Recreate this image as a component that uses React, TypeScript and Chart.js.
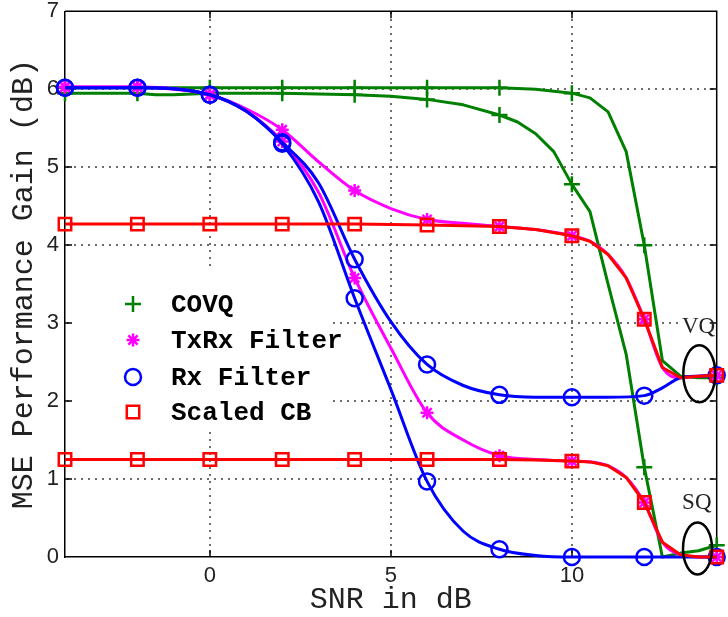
import { useEffect, useRef } from "react";
import { Chart, registerables } from "chart.js";
Chart.register(...registerables);

// ---- data ----
const xTickValues = [0, 5, 10];
const yTickValues = [0, 1, 2, 3, 4, 5, 6, 7];

const seriesNames = ["COVQ", "TxRx Filter", "Rx Filter", "Scaled CB"];
const groupLabels = ["VQ", "SQ"];

// COVQ
const covqVqX = [-4, -2, 0, 2, 4, 6, 8, 9, 10, 10.5, 11, 11.5, 12, 12.5, 13, 13.5, 14];
const covqVqY = [6.02, 6.02, 6.02, 6.02, 6.02, 6.02, 6.02, 6.0, 5.95, 5.89, 5.71, 5.2, 4.0, 2.52, 2.32, 2.3, 2.3];
const covqSqX = [-4, -3, -2, -1.5, -1, 0, 1, 2, 3, 4, 5, 6, 7, 8, 8.5, 9, 9.5, 10, 10.5, 11, 11.5, 12, 12.5, 13, 13.5, 14];
const covqSqY = [5.95, 5.95, 5.95, 5.93, 5.93, 5.95, 5.95, 5.95, 5.94, 5.93, 5.91, 5.87, 5.8, 5.67, 5.58, 5.43, 5.2, 4.78, 4.43, 3.5, 2.6, 1.15, 0.0, 0.05, 0.08, 0.15];

// TxRx Filter
const txrxVqX = [-4, -3, -2, -1, 0, 1, 2, 3, 4, 5, 6, 7, 8, 9, 10, 10.5, 11, 11.5, 12, 12.5, 13, 13.5, 14];
const txrxVqY = [6.03, 6.03, 6.03, 6.0, 5.93, 5.75, 5.48, 5.07, 4.7, 4.47, 4.33, 4.28, 4.24, 4.2, 4.12, 4.05, 3.88, 3.58, 3.05, 2.43, 2.3, 2.32, 2.33];
const txrxSqX = [-4, -2, 0, 1, 2, 3, 4, 5, 6, 7, 8, 9, 10, 10.5, 11, 11.5, 12, 12.5, 13, 13.5, 14];
const txrxSqY = [6.03, 6.03, 5.93, 5.72, 5.33, 4.68, 3.58, 2.68, 1.85, 1.5, 1.3, 1.25, 1.23, 1.22, 1.17, 1.02, 0.7, 0.19, 0.03, 0.0, 0.0];

// Rx Filter
const rxVqX = [-4, -2, 0, 1, 2, 3, 4, 5, 6, 7, 8, 9, 10, 11, 12, 12.5, 13, 13.5, 14];
const rxVqY = [6.02, 6.02, 5.93, 5.72, 5.32, 4.8, 3.82, 3.02, 2.47, 2.2, 2.08, 2.05, 2.05, 2.05, 2.07, 2.17, 2.3, 2.32, 2.33];
const rxSqX = [-4, -2, 0, 1, 2, 3, 4, 5, 6, 7, 8, 9, 10, 12, 14];
const rxSqY = [6.02, 6.02, 5.93, 5.72, 5.3, 4.56, 3.32, 2.15, 0.97, 0.33, 0.1, 0.02, 0.0, 0.0, 0.0];

// Scaled CB
const scaledVqX = [-4, -2, 0, 2, 4, 6, 7, 8, 9, 10, 10.5, 11, 11.5, 12, 12.5, 13, 13.5, 14];
const scaledVqY = [4.27, 4.27, 4.27, 4.27, 4.27, 4.26, 4.25, 4.24, 4.2, 4.12, 4.05, 3.88, 3.58, 3.05, 2.43, 2.3, 2.32, 2.33];
const scaledSqX = [-4, -2, 0, 2, 4, 6, 8, 9, 10, 10.5, 11, 11.5, 12, 12.5, 13, 13.5, 14];
const scaledSqY = [1.25, 1.25, 1.25, 1.25, 1.25, 1.25, 1.25, 1.245, 1.23, 1.22, 1.17, 1.02, 0.7, 0.19, 0.03, 0.0, 0.0];

// annotation anchors (data coords)
const vqEllipse = { x: 13.52, y: 2.35 };
const sqEllipse = { x: 13.47, y: 0.11 };
const vqText = { x: 13.5, y: 2.95 };
const sqText = { x: 13.45, y: 0.69 };

// ---- styles ----
const colors = ["#008000", "#ff00ff", "#0000ff", "#ff0000"];
const markers = ["cross", "star", "circle", "rect"];
const markerRadius = [8, 6.5, 8, 8.8];
const drawOrder = [4, 3, 2, 1];
const smoothSeries = [false, true, true, false];

const curves = [
  { s: 0, x: covqVqX, y: covqVqY },
  { s: 0, x: covqSqX, y: covqSqY },
  { s: 1, x: txrxVqX, y: txrxVqY },
  { s: 1, x: txrxSqX, y: txrxSqY },
  { s: 2, x: rxVqX, y: rxVqY },
  { s: 2, x: rxSqX, y: rxSqY },
  { s: 3, x: scaledVqX, y: scaledVqY },
  { s: 3, x: scaledSqX, y: scaledSqY },
];

function drawMarker(ctx: CanvasRenderingContext2D, style: string, x: number, y: number, r: number) {
  ctx.beginPath();
  if (style === "cross") {
    ctx.moveTo(x - r, y); ctx.lineTo(x + r, y);
    ctx.moveTo(x, y - r); ctx.lineTo(x, y + r);
  } else if (style === "star") {
    for (let k = 0; k < 4; k++) {
      const a = (k * Math.PI) / 4;
      ctx.moveTo(x - Math.cos(a) * r, y - Math.sin(a) * r);
      ctx.lineTo(x + Math.cos(a) * r, y + Math.sin(a) * r);
    }
  } else if (style === "circle") {
    ctx.arc(x, y, r, 0, Math.PI * 2);
  } else {
    const h = r * Math.SQRT1_2;
    ctx.rect(x - h, y - h, 2 * h, 2 * h);
  }
  ctx.stroke();
}

function dottedLine(ctx: CanvasRenderingContext2D, x1: number, y1: number, x2: number, y2: number) {
  const len = Math.hypot(x2 - x1, y2 - y1);
  const step = 7;
  const n = Math.floor(len / step);
  for (let i = 0; i <= n; i++) {
    const t = (i * step) / len;
    const px = Math.round(x1 + (x2 - x1) * t);
    const py = Math.round(y1 + (y2 - y1) * t);
    ctx.fillRect(px - 1, py - 1, 2, 2);
  }
}

const decor = {
  id: "decor",
  beforeDatasetsDraw(chart: any) {
    const { ctx, chartArea: a, scales } = chart;
    const xs = scales.x, ys = scales.y;
    ctx.save();
    // dotted grid
    ctx.fillStyle = "#6e6e6e";
    for (const v of xTickValues) {
      const px = Math.round(xs.getPixelForValue(v));
      dottedLine(ctx, px, a.top + 2, px, a.bottom - 2);
    }
    for (const v of yTickValues.slice(1, -1)) {
      const py = Math.round(ys.getPixelForValue(v));
      dottedLine(ctx, a.left + 3, py, a.right - 2, py);
    }
    // legend background (covers grid)
    ctx.fillStyle = "#ffffff";
    ctx.fillRect(72, 270, 333 - 72, 432 - 270);
    // label backgrounds
    for (const t of [vqText, sqText]) {
      const px = xs.getPixelForValue(t.x), py = ys.getPixelForValue(t.y);
      ctx.fillRect(px - 17, py - 12, 34, 24);
    }
    // frame top/right
    ctx.strokeStyle = "#000";
    ctx.lineWidth = 1.5;
    ctx.beginPath();
    ctx.moveTo(a.left, a.top);
    ctx.lineTo(a.right, a.top);
    ctx.lineTo(a.right, a.bottom);
    ctx.stroke();
    // inward ticks
    ctx.lineWidth = 1.5;
    ctx.beginPath();
    for (const v of xTickValues) {
      const px = Math.round(xs.getPixelForValue(v));
      ctx.moveTo(px, a.bottom); ctx.lineTo(px, a.bottom - 7);
      ctx.moveTo(px, a.top); ctx.lineTo(px, a.top + 7);
    }
    for (const v of yTickValues.slice(1, -1)) {
      const py = Math.round(ys.getPixelForValue(v));
      ctx.moveTo(a.left, py); ctx.lineTo(a.left + 7, py);
      ctx.moveTo(a.right, py); ctx.lineTo(a.right - 7, py);
    }
    ctx.stroke();
    ctx.restore();
  },
  afterDatasetsDraw(chart: any) {
    const { ctx, scales } = chart;
    const xs = scales.x, ys = scales.y;
    ctx.save();
    // legend
    const rowsY = [304, 340, 377, 412];
    seriesNames.forEach((name, i) => {
      ctx.strokeStyle = colors[i];
      ctx.lineWidth = 2.5;
      drawMarker(ctx, markers[i], 133, rowsY[i], markerRadius[i]);
      ctx.fillStyle = "#000";
      ctx.font = 'bold 26px "Liberation Mono"';
      ctx.textBaseline = "middle";
      ctx.textAlign = "left";
      ctx.fillText(name, 171, rowsY[i] + 1);
    });
    // ellipses
    ctx.strokeStyle = "#000";
    ctx.lineWidth = 2.5;
    const ell = [
      { c: vqEllipse, rx: 16, ry: 28.5 },
      { c: sqEllipse, rx: 14.5, ry: 26 },
    ];
    for (const e of ell) {
      ctx.beginPath();
      ctx.ellipse(xs.getPixelForValue(e.c.x), ys.getPixelForValue(e.c.y), e.rx, e.ry, 0, 0, Math.PI * 2);
      ctx.stroke();
    }
    // group labels
    ctx.fillStyle = "#222";
    ctx.font = '23px "Liberation Serif"';
    ctx.textAlign = "center";
    ctx.textBaseline = "middle";
    [vqText, sqText].forEach((t, i) => {
      ctx.fillText(groupLabels[i], xs.getPixelForValue(t.x), ys.getPixelForValue(t.y));
    });
    ctx.restore();
  },
};

export default function App() {
  const ref = useRef<HTMLCanvasElement | null>(null);
  useEffect(() => {
    if (!ref.current) return;
    const datasets = curves.map((c) => ({
      label: seriesNames[c.s],
      data: c.x.map((x, i) => ({ x, y: c.y[i] })),
      borderColor: colors[c.s],
      backgroundColor: "rgba(0,0,0,0)",
      borderWidth: 3,
      pointStyle: markers[c.s],
      pointRadius: (ctx: any) => (ctx.raw && ctx.raw.x % 2 === 0 ? markerRadius[c.s] : 0),
      pointBorderWidth: 2.5,
      pointBorderColor: colors[c.s],
      pointBackgroundColor: "rgba(0,0,0,0)",
      cubicInterpolationMode: smoothSeries[c.s] ? "monotone" : "default",
      tension: 0,
      borderJoinStyle: "round",
      fill: false,
      clip: false,
      order: drawOrder[c.s],
    }));
    const chart = new Chart(ref.current, {
      type: "line",
      data: { datasets } as any,
      options: {
        responsive: false,
        animation: false,
        devicePixelRatio: 1,
        events: [],
        layout: { padding: { top: 9, right: 1, left: 0, bottom: 0 } },
        plugins: { legend: { display: false }, tooltip: { enabled: false } },
        scales: {
          x: {
            type: "linear",
            min: -4,
            max: 14,
            afterBuildTicks: (s: any) => {
              s.ticks = xTickValues.map((v) => ({ value: v }));
            },
            afterFit: (s: any) => {
              s.height = 60;
              s.paddingLeft = 0;
              s.paddingRight = 0;
            },
            grid: { display: false, drawTicks: false },
            border: { display: true, color: "#000", width: 1.5 },
            ticks: {
              padding: 6,
              color: "#222",
              font: { family: '"Liberation Sans"', size: 22 },
              maxRotation: 0,
            },
            title: {
              display: true,
              text: "SNR in dB",
              color: "#222",
              font: { family: '"Liberation Mono"', size: 30, lineHeight: 1 },
              padding: { top: 0, bottom: 2 },
            },
          },
          y: {
            type: "linear",
            min: 0,
            max: 7,
            afterBuildTicks: (s: any) => {
              s.ticks = yTickValues.map((v) => ({ value: v }));
            },
            afterFit: (s: any) => {
              s.width = 65;
              s.paddingTop = 0;
              s.paddingBottom = 0;
            },
            grid: { display: false, drawTicks: false },
            border: { display: true, color: "#000", width: 1.5 },
            ticks: {
              padding: 6,
              color: "#222",
              font: { family: '"Liberation Sans"', size: 22 },
            },
            title: {
              display: true,
              text: "MSE Performance Gain (dB)",
              color: "#222",
              font: { family: '"Liberation Mono"', size: 30, lineHeight: 1 },
              padding: { top: 9, bottom: 0 },
            },
          },
        },
      } as any,
      plugins: [decor],
    });
    return () => chart.destroy();
  }, []);
  return (
    <div style={{ position: "fixed", left: 0, top: 0, width: 728, height: 617, background: "#fff" }}>
      <canvas ref={ref} width={728} height={617} style={{ width: 728, height: 617, display: "block" }} />
    </div>
  );
}
